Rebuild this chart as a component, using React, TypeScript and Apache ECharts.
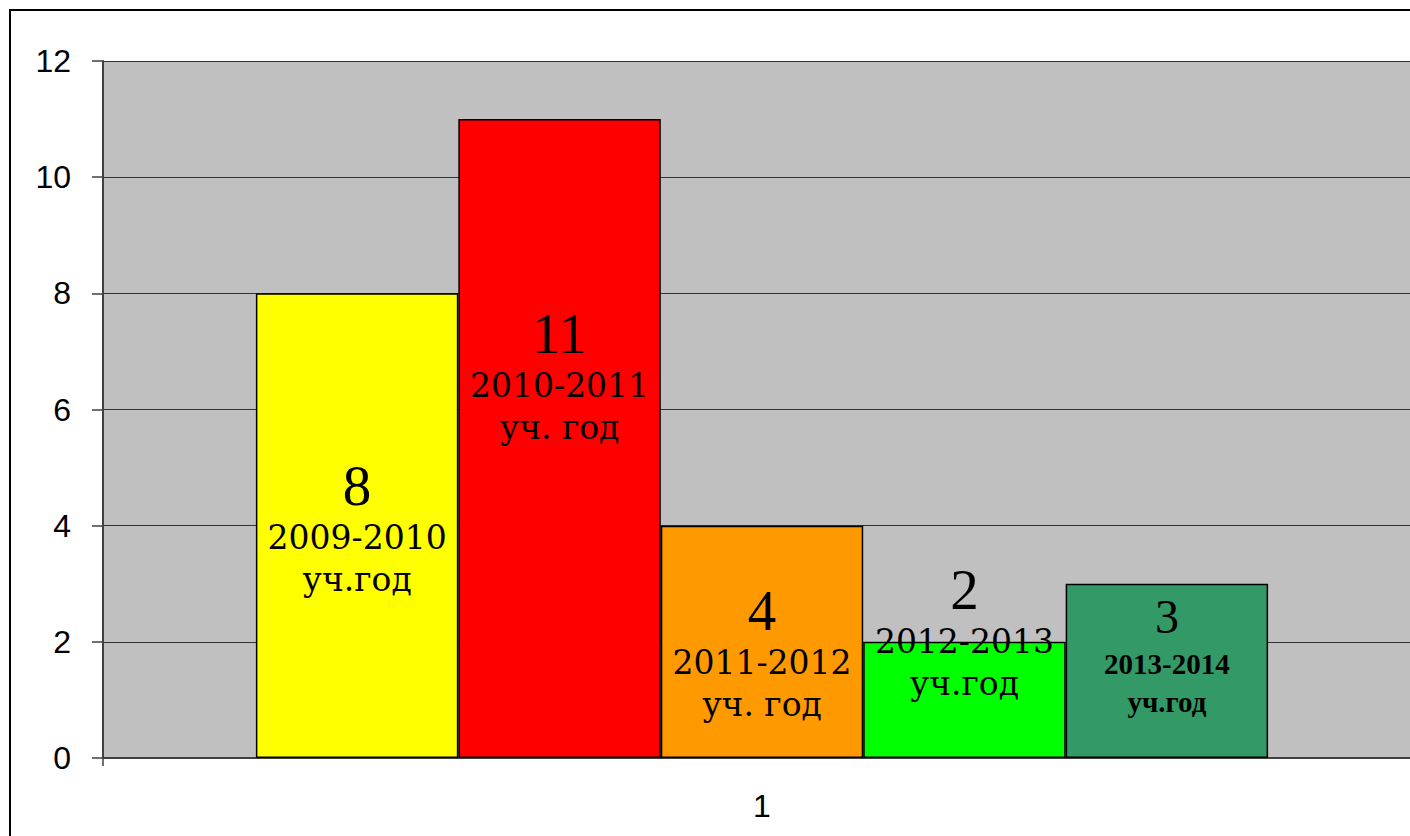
import React, { useEffect, useRef } from "react";
import * as echarts from "echarts";

const categories = ["1"];
const seriesNames = ["2009-2010", "2010-2011", "2011-2012", "2012-2013", "2013-2014"];
const values = [8, 11, 4, 2, 3];
const yearSuffix = ["уч.год", "уч. год", "уч. год", "уч.год", "уч.год"];
const barColors = ["#FFFF00", "#FF0000", "#FF9900", "#00FF00", "#339966"];
const labelOffsets = [2, -63, 11, -68, -16];
const yTicks = { min: 0, max: 12, interval: 2 };

export default function App() {
  const ref = useRef<HTMLDivElement>(null);
  useEffect(() => {
    document.body.style.margin = "0";
    const chart = echarts.init(ref.current!, undefined, { renderer: "svg" });
    const series = values.map((v, i) => {
      const bold = i === 4;
      return {
        name: seriesNames[i],
        type: "bar",
        data: [v],
        barGap: "0%",
        barCategoryGap: "23.2%",
        itemStyle: { color: barColors[i], borderColor: "#000", borderWidth: 1.5 },
        label: {
          show: true,
          position: "inside",
          offset: [0, labelOffsets[i]],
          formatter: bold
            ? `{n5|${v}}\n{t5|${seriesNames[i]}}\n{t5|${yearSuffix[i]}}`
            : `{n|${v}}\n{t|${seriesNames[i]}}\n{t|${yearSuffix[i]}}`,
          rich: {
            n: { fontFamily: "Liberation Serif", fontSize: 57, lineHeight: 62, color: "#000", align: "center" },
            t: { fontFamily: "DejaVu Serif", fontSize: 33, lineHeight: 42, color: "#000", align: "center" },
            n5: { fontFamily: "Liberation Serif", fontSize: 48, lineHeight: 56, color: "#000", align: "center" },
            t5: { fontFamily: "Liberation Serif", fontSize: 29, fontWeight: "bold", lineHeight: 38, color: "#000", align: "center" },
          },
        },
      };
    });
    chart.setOption({
      animation: false,
      backgroundColor: "#fff",
      grid: {
        left: 103,
        top: 61,
        bottom: 78,
        right: 19,
        show: true,
        backgroundColor: "#C0C0C0",
        borderWidth: 0,
      },
      xAxis: {
        type: "category",
        data: categories,
        axisLine: { show: true, lineStyle: { color: "#404040", width: 2 } },
        axisTick: { show: true, length: 8, lineStyle: { color: "#404040", width: 1.5 } },
        axisLabel: { fontFamily: "Liberation Sans", fontSize: 32, color: "#000", margin: 32 },
      },
      yAxis: {
        type: "value",
        min: yTicks.min,
        max: yTicks.max,
        interval: yTicks.interval,
        axisLine: { show: true, lineStyle: { color: "#404040", width: 2 } },
        axisTick: { show: true, length: 11, lineStyle: { color: "#404040", width: 1.5 } },
        axisLabel: { fontFamily: "Liberation Sans", fontSize: 32, color: "#000", margin: 32 },
        splitLine: { show: true, lineStyle: { color: "#333", width: 1 } },
      },
      graphic: [
        {
          type: "rect",
          shape: { x: 10, y: 10, width: 1500, height: 900 },
          style: { fill: "none", stroke: "#000", lineWidth: 2 },
          silent: true,
          z: 100,
        },
      ],
      series,
    });
    return () => chart.dispose();
  }, []);
  return (
    <div style={{ position: "fixed", left: 0, top: 0, width: 1410, height: 836, overflow: "hidden" }}>
      <div ref={ref} style={{ width: 1440, height: 836 }} />
    </div>
  );
}
